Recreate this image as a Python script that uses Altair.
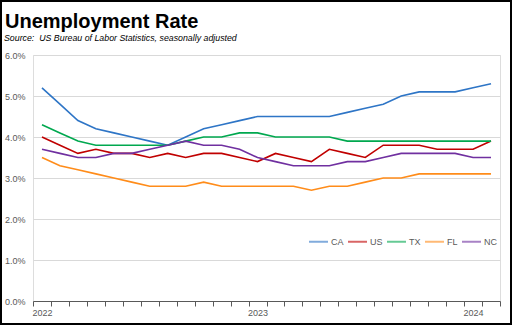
import altair as alt
import pandas as pd

months = pd.date_range("2022-01-01", "2024-02-01", freq="MS").strftime("%Y-%m").tolist()
ca = [5.2,4.8,4.4,4.2,4.1,4.0,3.9,3.8,4.0,4.2,4.3,4.4,4.5,4.5,4.5,4.5,4.5,4.6,4.7,4.8,5.0,5.1,5.1,5.1,5.2,5.3]
us = [4.0,3.8,3.6,3.7,3.6,3.6,3.5,3.6,3.5,3.6,3.6,3.5,3.4,3.6,3.5,3.4,3.7,3.6,3.5,3.8,3.8,3.8,3.7,3.7,3.7,3.9]
tx = [4.3,4.1,3.9,3.8,3.8,3.8,3.8,3.8,3.9,4.0,4.0,4.1,4.1,4.0,4.0,4.0,4.0,3.9,3.9,3.9,3.9,3.9,3.9,3.9,3.9,3.9]
fl = [3.5,3.3,3.2,3.1,3.0,2.9,2.8,2.8,2.8,2.9,2.8,2.8,2.8,2.8,2.8,2.7,2.8,2.8,2.9,3.0,3.0,3.1,3.1,3.1,3.1,3.1]
nc = [3.7,3.6,3.5,3.5,3.6,3.6,3.7,3.8,3.9,3.8,3.8,3.7,3.5,3.4,3.3,3.3,3.3,3.4,3.4,3.5,3.6,3.6,3.6,3.6,3.5,3.5]

series = ["CA", "US", "TX", "FL", "NC"]
colors = ["#2E75C6", "#C00000", "#00A84F", "#FF8C1A", "#7030A0"]
title_text = "Unemployment Rate"
subtitle_text = "Source:\u00a0\u00a0US Bureau of Labor Statistics, seasonally adjusted"

rows = []
for name, vals in zip(series, [ca, us, tx, fl, nc]):
    for i, (m, v) in enumerate(zip(months, vals)):
        rows.append({"i": i, "month": m, "state": name, "rate": v / 100})
df = pd.DataFrame(rows)

label_expr = "substring(datum.value, 5, 7) == '01' ? substring(datum.value, 0, 4) : ''"

lines = alt.Chart(df).mark_line(strokeWidth=1.6).encode(
    x=alt.X("month:O", sort=months,
            scale=alt.Scale(type="band", paddingInner=0, paddingOuter=0),
            axis=alt.Axis(labelExpr=label_expr, title=None, grid=False, tickBand="extent",
                          labelOverlap=False, labelAngle=0, labelAlign="center",
                          labelFontSize=9, labelColor="#595959", labelFont="Liberation Sans",
                          tickSize=5, tickColor="#595959", domainColor="#595959",
                          labelPadding=2)),
    y=alt.Y("rate:Q", scale=alt.Scale(domain=[0, 0.06], nice=False),
            axis=alt.Axis(values=[0, 0.01, 0.02, 0.03, 0.04, 0.05, 0.06], format=".1%",
                          title=None, domain=False, ticks=False, gridColor="#D9D9D9",
                          gridWidth=1, labelFontSize=9, labelColor="#595959",
                          labelFont="Liberation Sans", labelPadding=8)),
    color=alt.Color("state:N", scale=alt.Scale(domain=series, range=colors),
                    legend=alt.Legend(orient="none", legendX=275, legendY=176,
                                      direction="horizontal", title=None,
                                      symbolType="stroke", symbolSize=361,
                                      symbolStrokeWidth=2, symbolOpacity=0.6,
                                      labelFontSize=9, labelColor="#595959",
                                      labelFont="Liberation Sans", columnPadding=0,
                                      labelOffset=2, padding=0)),
    order="i:Q",
)

one = alt.Data(values=[{}])

border = alt.Chart(one).mark_rect(
    fill=None, stroke="black", strokeWidth=2
).encode(
    x=alt.value(-32), x2=alt.value(478), y=alt.value(-54), y2=alt.value(269)
)

title = alt.Chart(one).mark_text(
    align="left", baseline="alphabetic", font="Liberation Sans", fontSize=20,
    fontWeight="bold", color="black"
).encode(x=alt.value(-28), y=alt.value(-27), text=alt.value(title_text))

subtitle = alt.Chart(one).mark_text(
    align="left", baseline="alphabetic", font="Liberation Sans", fontSize=8.8,
    fontStyle="italic", color="black"
).encode(x=alt.value(-29), y=alt.value(-14), text=alt.value(subtitle_text))

chart = alt.layer(lines, border, title, subtitle).properties(
    width=467, height=246,
    autosize="none",
    padding={"left": 33, "top": 55, "right": 12, "bottom": 24},
).configure_view(stroke=None).configure(background="white")

chart.save("out.html", embed_options={"renderer": "svg", "actions": False})
